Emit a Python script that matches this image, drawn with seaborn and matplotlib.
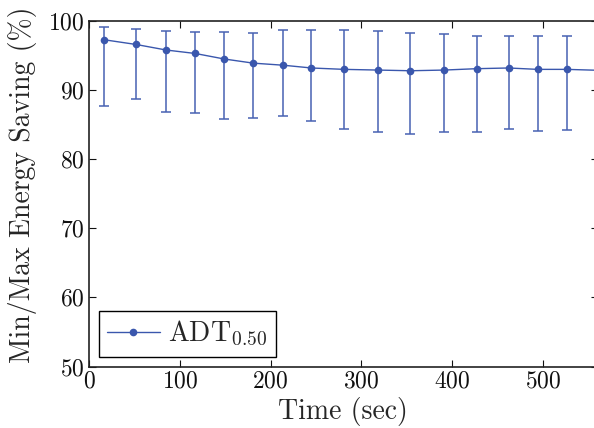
import numpy as np
import pandas as pd
import seaborn as sns
import matplotlib
matplotlib.use("Agg")
import matplotlib.pyplot as plt

# values
time_sec = [16, 52, 85, 117, 149, 181, 214, 245, 281, 318, 354, 391, 427, 462, 494, 526, 565]
saving = [97.3, 96.6, 95.8, 95.3, 94.5, 93.9, 93.6, 93.2, 93.0, 92.9, 92.8, 92.9, 93.1, 93.2, 93.0, 93.0, 92.85]
upper = [99.2, 98.8, 98.5, 98.4, 98.4, 98.3, 98.7, 98.7, 98.7, 98.5, 98.2, 98.1, 97.8, 97.8, 97.8, 97.8, 97.8]
lower = [87.65, 88.7, 86.8, 86.7, 85.8, 85.9, 86.2, 85.5, 84.3, 83.9, 83.6, 83.9, 84.0, 84.3, 84.1, 84.2, 84.2]

df = pd.DataFrame({"time": time_sec, "saving": saving})
yerr = [np.array(saving) - np.array(lower), np.array(upper) - np.array(saving)]

sns.set_style("ticks")
plt.rcParams['font.family'] = ['cmr10']
plt.rcParams['mathtext.fontset'] = 'cm'
plt.rcParams['axes.unicode_minus'] = False
plt.rcParams['axes.formatter.use_mathtext'] = True

fig = plt.figure(figsize=(5.94, 4.28), dpi=100)
ax = fig.add_axes([89 / 594, (428 - 366.5) / 428, (597.5 - 89) / 594, (366.5 - 21) / 428])

line_col = "#3a57ad"
ax.errorbar(df["time"], df["saving"], yerr=yerr, fmt="none", ecolor="#4862b3",
            elinewidth=1.1, capsize=3.9, capthick=1.1, zorder=2)
sns.lineplot(data=df, x="time", y="saving", ax=ax, color=line_col, marker="o",
             markersize=5.5, markeredgewidth=0, linewidth=1, label=r"ADT$_{0.50}$", zorder=3)

ax.set_xlim(0, 560)
ax.set_ylim(50, 100)
ax.set_xticks([0, 100, 200, 300, 400, 500])
ax.set_yticks([50, 60, 70, 80, 90, 100])
ax.tick_params(direction="in", top=True, right=True, length=5, width=0.8,
               labelsize=17, colors="#111111", pad=3)
for s in ax.spines.values():
    s.set_linewidth(1.2)
    s.set_color("#222222")

ax.set_xlabel("Time (sec)", fontsize=20, labelpad=3)
ax.set_ylabel("Min/Max Energy Saving (%)", fontsize=20)
ax.yaxis.set_label_coords(-0.102, 0.525)

leg = ax.legend(loc="lower left", fontsize=20, frameon=True, fancybox=False,
                edgecolor="black", framealpha=1, handlelength=1.9,
                borderaxespad=0.35, borderpad=0.3, handletextpad=0.3)
leg.get_frame().set_linewidth(1.0)

fig.savefig("out.png", dpi=100)
